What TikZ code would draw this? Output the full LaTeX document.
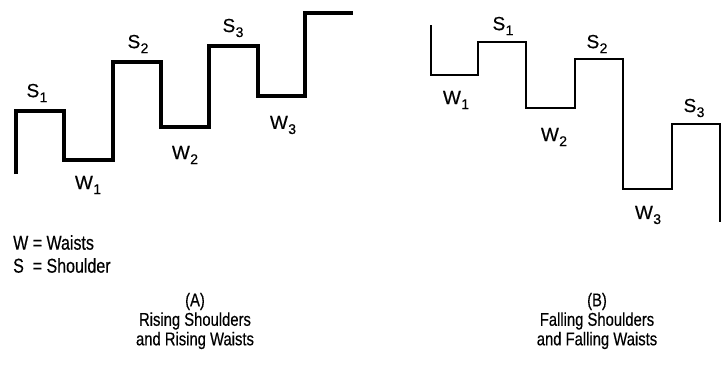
\documentclass[tikz,border=0pt]{standalone}
\usepackage{fontspec}
\setmainfont{Liberation Sans}[FakeStretch=0.8,FakeBold=0.4]
\newfontfamily\labfont{Liberation Sans}[FakeBold=0.4]
\newcommand{\lbl}[2]{#1\kern0.02em\raisebox{-0.5ex}{\fontsize{14}{15}\selectfont #2}}
\begin{document}
\begin{tikzpicture}[x=1pt,y=-1pt,
  thick line/.style={line width=4.5pt,line join=miter,line cap=butt},
  thin line/.style={line width=1.6pt,line join=miter},
  lab/.style={font=\labfont\fontsize{19}{21}\selectfont,inner sep=0pt},
  captxt/.style={font=\fontsize{18.5}{19.5}\selectfont,align=center,inner sep=0pt}]
\useasboundingbox (0,0) rectangle (727,375);
% (A)
\draw[thick line] (16,174) |- (64,111) |- (113,160) |- (161,62) |- (209,127) |- (258,46) |- (305,96) |- (353,13);
% (B)
\draw[thin line] (431,25) |- (478,75) |- (526,42) |- (575,108) |- (623,59) |- (672,189) |- (720,124) -- (720,222);
% labels A
\node[lab] (aS1) at (37,93) {\lbl{S}{1}};
\node[lab] (aW1) at (88,185) {\lbl{W}{1}};
\node[lab] (aS2) at (138,44) {\lbl{S}{2}};
\node[lab] (aW2) at (185,155) {\lbl{W}{2}};
\node[lab] (aS3) at (233,28) {\lbl{S}{3}};
\node[lab] (aW3) at (283,125) {\lbl{W}{3}};
% labels B
\node[lab] (bS1) at (503,26) {\lbl{S}{1}};
\node[lab] (bW1) at (456,100) {\lbl{W}{1}};
\node[lab] (bS2) at (597,44) {\lbl{S}{2}};
\node[lab] (bW2) at (554,137) {\lbl{W}{2}};
\node[lab] (bS3) at (694,108) {\lbl{S}{3}};
\node[lab] (bW3) at (648,215) {\lbl{W}{3}};
% legend
\node[captxt,anchor=west,align=left,font=\fontsize{20}{23}\selectfont] (leg) at (13,254) {W = Waists\\S\ \ = Shoulder};
% captions
\node[captxt] (capA) at (195,321) {(A)\\Rising Shoulders\\and Rising Waists};
\node[captxt] (capB) at (597,321) {(B)\\Falling Shoulders\\and Falling Waists};
\end{tikzpicture}
\end{document}
